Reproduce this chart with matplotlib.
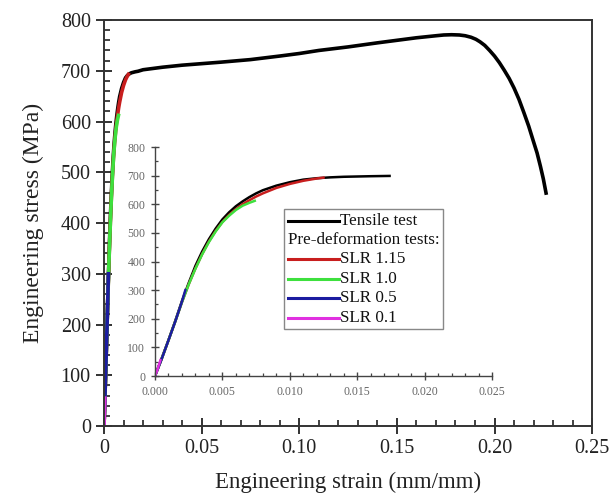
import matplotlib
matplotlib.use("Agg")
import matplotlib.pyplot as plt
import numpy as np
from matplotlib.lines import Line2D
from matplotlib.offsetbox import AnchoredOffsetbox, DrawingArea, HPacker, TextArea, VPacker
from matplotlib.ticker import MultipleLocator

plt.rcParams["font.family"] = ["Liberation Serif", "DejaVu Serif"]

# tensile test (strain mm/mm, stress MPa)
tensile_strain = [0, 0.0005, 0.001, 0.0015, 0.002, 0.0025, 0.003, 0.0035, 0.004, 0.0045,
                  0.005, 0.0055, 0.006, 0.0065, 0.007, 0.0075, 0.008, 0.009, 0.010, 0.011,
                  0.012, 0.013, 0.014, 0.015, 0.016, 0.0174, 0.02, 0.03, 0.04, 0.05,
                  0.06, 0.075, 0.09, 0.10, 0.11, 0.125, 0.14, 0.15, 0.16, 0.165,
                  0.17, 0.174, 0.178, 0.182, 0.185, 0.188, 0.1905, 0.1926, 0.195, 0.1975,
                  0.20, 0.2025, 0.205, 0.2075, 0.21, 0.2125, 0.215, 0.2175, 0.22, 0.2218,
                  0.2235, 0.225, 0.2264]
tensile_stress = [0, 62, 125, 192, 262, 325, 385, 435, 478, 515,
                  547, 572, 593, 610, 625, 638, 649, 665, 677, 686,
                  691, 694, 696, 697, 698, 699, 702, 707, 711, 714,
                  717, 722, 729, 734, 740, 747, 755, 760, 765, 767,
                  769, 770.5, 771, 770.5, 769, 766, 762, 757, 750, 740,
                  729, 716, 701, 685, 666, 644, 618, 591, 560, 538,
                  512, 487, 459]

# pre-deformation tests
slr115_strain = [0, 0.0005, 0.001, 0.0015, 0.002, 0.0025, 0.003, 0.0035, 0.004, 0.0045,
                 0.005, 0.0055, 0.006, 0.0065, 0.007, 0.0075, 0.008, 0.009, 0.010, 0.011,
                 0.012, 0.0125]
slr115_stress = [0, 60, 125, 190, 258, 320, 376, 426, 470, 507,
                 538, 563, 583, 600, 614, 627, 638, 657, 671, 682, 690, 693]

slr10_strain = [0, 0.0005, 0.001, 0.0015, 0.002, 0.0025, 0.003, 0.0035, 0.004, 0.0045,
                0.005, 0.0055, 0.006, 0.0065, 0.007, 0.0074]
slr10_stress = [0, 60, 125, 190, 258, 320, 375, 425, 468, 505, 537, 560, 580, 595, 605, 612]

slr05_strain = [0, 0.0005, 0.001, 0.0015, 0.002, 0.00225]
slr05_stress = [0, 60, 125, 190, 260, 300]

slr01_strain = [0, 0.0001, 0.0002, 0.0003, 0.0004]
slr01_stress = [0, 12, 25, 40, 55]

tests = [
    ("SLR 1.15", slr115_strain, slr115_stress, "#c81e1e"),
    ("SLR 1.0", slr10_strain, slr10_stress, "#3ee03e"),
    ("SLR 0.5", slr05_strain, slr05_stress, "#1c1ca0"),
    ("SLR 0.1", slr01_strain, slr01_stress, "#e030e0"),
]

fig = plt.figure(figsize=(6.09, 4.93), dpi=100)
ax = fig.add_axes([0.1708, 0.1359, 0.8015, 0.8235])

# main plot
ax.plot(tensile_strain, tensile_stress, color="black", lw=2.6, solid_joinstyle="round")
for name, s, st, c in tests:
    ax.plot(s, st, color=c, lw=2.6)

ax.set_xlim(0, 0.25)
ax.set_ylim(0, 800)
ax.xaxis.set_minor_locator(MultipleLocator(0.01))
ax.yaxis.set_major_locator(MultipleLocator(100))
ax.yaxis.set_minor_locator(MultipleLocator(20))
ax.set_xticks([0, 0.05, 0.10, 0.15, 0.20, 0.25])
ax.set_xticklabels(["0", "0.05", "0.10", "0.15", "0.20", "0.25"])
ax.tick_params(which="major", direction="inout", length=11, width=1.3, labelsize=14.5,
               colors="#222222", pad=4)
ax.tick_params(which="minor", direction="in", length=4, width=1.2, colors="#222222")
for sp in ax.spines.values():
    sp.set_linewidth(1.4)
    sp.set_color("#333333")
ax.set_xlabel("Engineering strain (mm/mm)", fontsize=16.5, labelpad=10, color="#222222")
ax.set_ylabel("Engineering stress (MPa)", fontsize=17, labelpad=12, color="#222222")

# inset
axin = fig.add_axes([0.2545, 0.2373, 0.5534, 0.4645])
axin.patch.set_alpha(0)
ts = np.array(tensile_strain)
tst = np.array(tensile_stress)
keep = ts <= 0.0175
axin.plot(ts[keep], tst[keep], color="black", lw=1.8)
for name, s, st, c in tests:
    axin.plot(s, st, color=c, lw=1.8)

axin.set_xlim(0, 0.025)
axin.set_ylim(0, 800)
axin.xaxis.set_major_locator(MultipleLocator(0.005))
axin.xaxis.set_minor_locator(MultipleLocator(0.001))
axin.yaxis.set_major_locator(MultipleLocator(100))
axin.yaxis.set_minor_locator(MultipleLocator(50))
axin.xaxis.set_major_formatter(lambda v, p: f"{v:.3f}")
axin.spines["top"].set_visible(False)
axin.spines["right"].set_visible(False)
for sp in ("left", "bottom"):
    axin.spines[sp].set_linewidth(1.0)
    axin.spines[sp].set_color("#444444")
axin.tick_params(which="major", direction="inout", length=6, width=1.0, labelsize=8.5,
                 colors="#444444", labelcolor="#666666", pad=4)
axin.tick_params(which="minor", direction="in", length=2.5, width=0.9, colors="#444444")

# legend built by hand: the "Pre-deformation tests:" row has no line
fs = 12.3
txtprops = dict(fontsize=fs, color="#111111")


def legend_row(color, label):
    da = DrawingArea(37, 10, 0, 0)
    da.add_artist(Line2D([0, 37], [5, 5], color=color, lw=2.2))
    return HPacker(children=[da, TextArea(label, textprops=txtprops)], align="center", pad=0, sep=1)


rows = [legend_row("black", "Tensile test"),
        TextArea("Pre-deformation tests:", textprops=txtprops)]
for name, s, st, c in tests:
    rows.append(legend_row(c, name))

box = VPacker(children=rows, align="left", pad=0, sep=2.5)
leg = AnchoredOffsetbox(loc="upper left", child=box, pad=0.25, borderpad=0, frameon=True,
                        bbox_to_anchor=(0.383, 0.729), bbox_transform=axin.transAxes)
leg.patch.set_edgecolor("#888888")
leg.patch.set_linewidth(1.0)
leg.patch.set_boxstyle("square", pad=0)
axin.add_artist(leg)

fig.savefig("out.png", dpi=100)
